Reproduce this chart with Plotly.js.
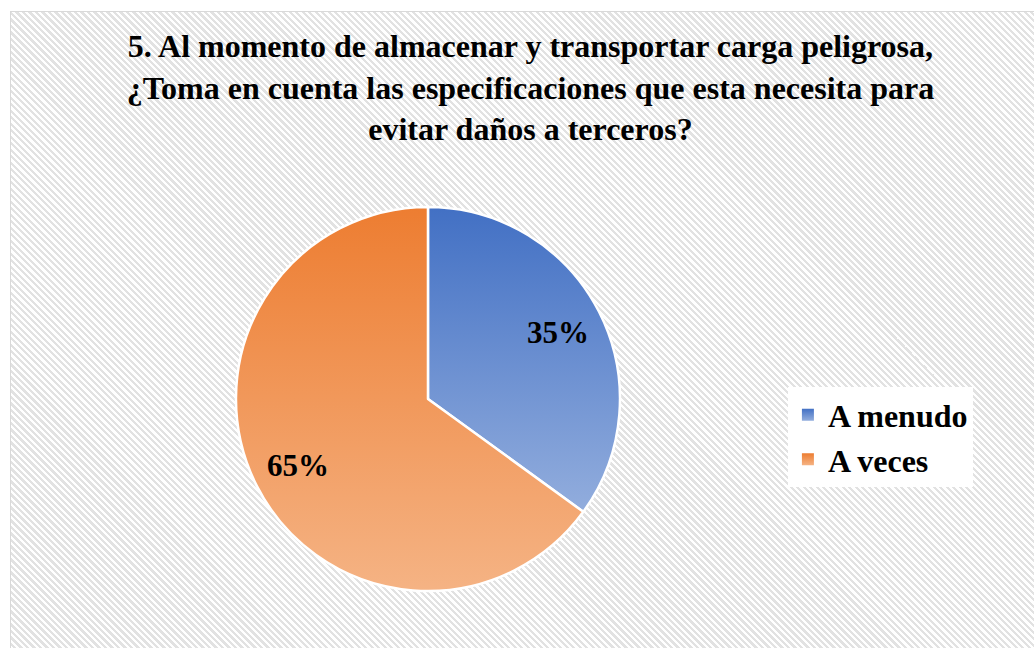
<!DOCTYPE html>
<html>
<head>
<meta charset="utf-8">
<script src="https://cdn.plot.ly/plotly-3.0.1.min.js"></script>
<style>
  html, body { margin:0; padding:0; background:#fff; width:1034px; height:648px; overflow:hidden; }
  #frame { position:absolute; left:10px; top:11px; width:1040px; height:650px;
    border:1.5px solid #d9d9d9;
    background: repeating-linear-gradient(45deg, #ffffff 0px, #ffffff 2.3px, #e2e2e2 2.3px, #e2e2e2 4.6px); }
  #chart { position:absolute; left:0; top:0; width:1034px; height:648px; }
</style>
</head>
<body>
<div id="frame"></div>
<div id="chart"></div>
<script>
const titleText = "5. Al momento de almacenar y transportar carga peligrosa,<br>¿Toma en cuenta las especificaciones que esta necesita para<br>evitar daños a terceros?";
const categories = ["A menudo", "A veces"];
const values = [35, 65];
const colors = ["#6088cf", "#f09a5f"];

const W = 1034, H = 648;
const dom = { x: [0.2282, 0.5996], y: [0.088, 0.6806] };

// percentage labels placed at each slice's mid-angle, derived from the values
const total = values.reduce((a, b) => a + b, 0);
const cx = (dom.x[0] + dom.x[1]) / 2 * W;
const cy = (dom.y[0] + dom.y[1]) / 2 * H;
const R = Math.min((dom.x[1] - dom.x[0]) * W, (dom.y[1] - dom.y[0]) * H) / 2;
let acc = 0;
const annotations = values.map(function (v) {
  const mid = (acc + v / 2) / total * 2 * Math.PI;
  acc += v;
  const d = 0.76 * R;
  return {
    xref: "paper", yref: "paper",
    x: (cx + d * Math.sin(mid)) / W,
    y: (cy + d * Math.cos(mid)) / H,
    text: Math.round(v / total * 100) + "%",
    showarrow: false,
    xanchor: "center", yanchor: "middle",
    font: { family: "Liberation Serif", size: 31, color: "#000", weight: "bold" }
  };
});

const data = [{
  type: "pie",
  labels: categories,
  values: values,
  sort: false,
  direction: "clockwise",
  rotation: 0,
  textinfo: "none",
  marker: { colors: colors, line: { color: "#ffffff", width: 2.5 } },
  domain: dom,
  hoverinfo: "none"
}];

const layout = {
  width: W, height: H,
  margin: { l: 0, r: 0, t: 0, b: 0 },
  paper_bgcolor: "rgba(0,0,0,0)",
  plot_bgcolor: "rgba(0,0,0,0)",
  title: {
    text: titleText,
    x: 0.513, xanchor: "center",
    y: 0.912, yanchor: "top",
    font: { family: "Liberation Serif", size: 32, color: "#000", weight: "bold" }
  },
  annotations: annotations,
  showlegend: true,
  legend: {
    x: 0.762, xanchor: "left",
    y: 0.325, yanchor: "middle",
    bgcolor: "#ffffff",
    font: { family: "Liberation Serif", size: 32, color: "#000", weight: "bold" },
    itemwidth: 30
  }
};

Plotly.newPlot("chart", data, layout, { staticPlot: true, displayModeBar: false }).then(function (gd) {
  const svg = gd.querySelector("svg.main-svg");
  const ns = "http://www.w3.org/2000/svg";
  let defs = svg.querySelector("defs");
  if (!defs) { defs = document.createElementNS(ns, "defs"); svg.insertBefore(defs, svg.firstChild); }
  const grads = [["gBlue", "#4270c4", "#92addd"], ["gOrange", "#ed7d31", "#f5b384"]];
  grads.forEach(function (g) {
    const lg = document.createElementNS(ns, "linearGradient");
    lg.setAttribute("id", g[0]);
    lg.setAttribute("x1", "0"); lg.setAttribute("y1", "0");
    lg.setAttribute("x2", "0"); lg.setAttribute("y2", "1");
    const s1 = document.createElementNS(ns, "stop"); s1.setAttribute("offset", "0"); s1.setAttribute("stop-color", g[1]);
    const s2 = document.createElementNS(ns, "stop"); s2.setAttribute("offset", "1"); s2.setAttribute("stop-color", g[2]);
    lg.appendChild(s1); lg.appendChild(s2); defs.appendChild(lg);
  });
  const slices = gd.querySelectorAll("g.slice path.surface");
  slices.forEach(function (p, i) { p.style.fill = "url(#" + grads[i][0] + ")"; });
  const legendPts = gd.querySelectorAll("g.legend g.traces path.legendpie");
  legendPts.forEach(function (p, i) { p.style.fill = "url(#" + grads[i][0] + ")"; p.style.strokeWidth = "0"; });
});
</script>
</body>
</html>
